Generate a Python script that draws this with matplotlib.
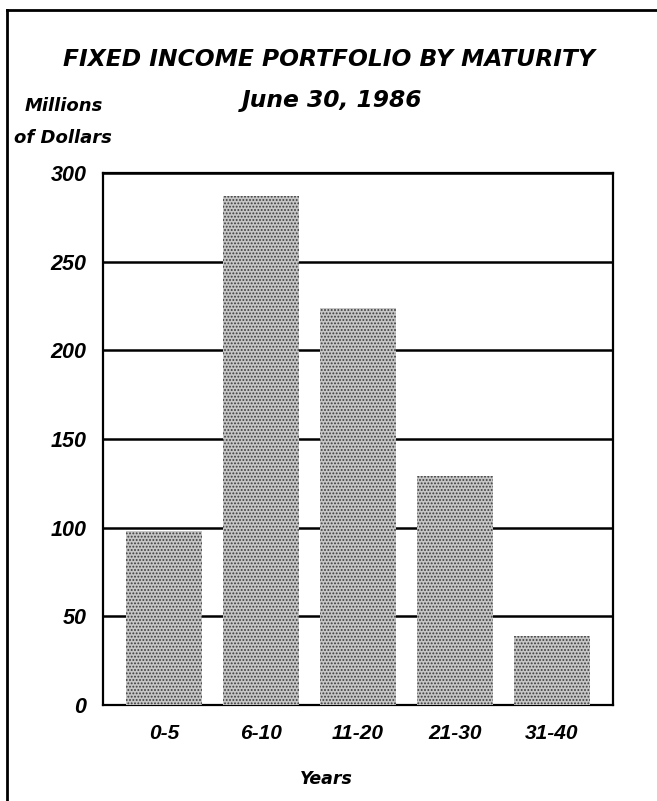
import matplotlib
matplotlib.use("Agg")
from matplotlib import pyplot as plt
from matplotlib.lines import Line2D
import numpy as np

# maturity buckets and holdings, millions of dollars
years = ["0-5", "6-10", "11-20", "21-30", "31-40"]
amounts = [98, 287, 224, 129, 39]
yticks = [0, 50, 100, 150, 200, 250, 300]

plt.rcParams['font.family'] = ['Liberation Sans', 'DejaVu Sans']
plt.rcParams['hatch.linewidth'] = 0.9
plt.rcParams['hatch.color'] = '#3c3c3c'

fig = plt.figure(figsize=(6.57, 8.01), dpi=100)
ax = fig.add_axes([103/657, 96/801, 510/657, 532/801])

x = np.arange(len(years))
ax.bar(x, amounts, width=0.79, color='#c6c6c6', hatch='.....',
       linewidth=0, zorder=3)

ax.set_ylim(0, 300)
ax.set_xlim(-0.63, len(years) - 1 + 0.63)
ax.set_yticks(yticks)
ax.set_xticks(x)
ax.set_xticklabels(years)
ax.yaxis.grid(True, color='black', linewidth=1.8, zorder=0)
ax.set_axisbelow(True)
ax.tick_params(length=0)
ax.tick_params(axis='y', pad=12, labelsize=15.5)
ax.tick_params(axis='x', pad=14, labelsize=15)
for lab in ax.get_xticklabels() + ax.get_yticklabels():
    lab.set_fontweight('bold')
    lab.set_fontstyle('italic')
for s in ax.spines.values():
    s.set_linewidth(1.6)
    s.set_color('black')

bi = dict(fontweight='bold', fontstyle='italic', family='DejaVu Sans',
          ha='center', va='center')
fig.text(0.5, 1 - 60/801, "FIXED INCOME PORTFOLIO BY MATURITY", fontsize=16.8, **bi)
fig.text(332/657, 1 - 101/801, "June 30, 1986", fontsize=16.8, **bi)
fig.text(64/657, 1 - 106/801, "Millions", fontsize=13, **bi)
fig.text(63/657, 1 - 138/801, "of Dollars", fontsize=13, **bi)
fig.text(326/657, 1 - 779/801, "Years", fontsize=12.5, **bi)

# page border: top and left edges
fig.add_artist(Line2D([7/657, 1], [1 - 10/801, 1 - 10/801], color='black', linewidth=2))
fig.add_artist(Line2D([7/657, 7/657], [0, 1 - 10/801], color='black', linewidth=2))

fig.savefig("out.png", dpi=100)
